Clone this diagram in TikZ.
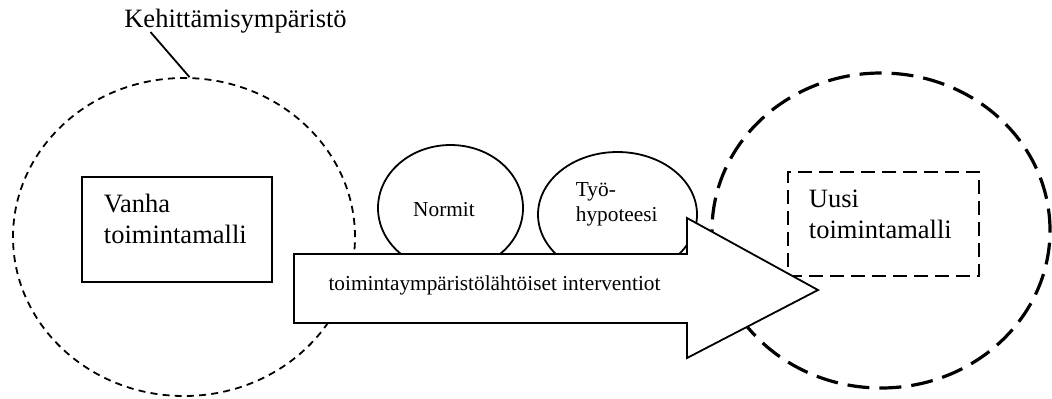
\documentclass[tikz,border=0pt]{standalone}
\usepackage{fontspec}
\setmainfont{Liberation Serif}
\usetikzlibrary{shapes.geometric}
\begin{document}
\begin{tikzpicture}[x=0.5pt,y=-0.5pt,
  line width=0.9pt,
  bigtext/.style={font=\fontsize{13.25}{15.2}\selectfont},
  smalltext/.style={font=\fontsize{10.65}{12.2}\selectfont},
  oval/.style={ellipse,draw,inner sep=0pt},
  envold/.style={oval,dash pattern=on 3.5pt off 2.6pt},
  envnew/.style={oval,line width=1.6pt,dash pattern=on 11pt off 5pt},
  modelbox/.style={rectangle,draw,inner sep=0pt},
  txt/.style={inner sep=0pt,align=left}]
\useasboundingbox (0,0) rectangle (1052,398);

% development environment and the old model
\node[envold,minimum width=171pt,minimum height=159pt] (old) at (184,237) {};
\node[bigtext,inner sep=0pt,anchor=base] (kehi) at (235.5,27) {Kehittämisympäristö};
\draw ([xshift=13.5pt,yshift=-2.5pt]kehi.base west) -- (old.88.5);
\node[modelbox,minimum width=95pt,minimum height=52.5pt] (vanha) at (177,229.5) {};
% multi-line text: the base anchor sits on the last line
\node[bigtext,txt,anchor=base west] (vanhat) at (103,243) {Vanha\\toimintamalli};

% norms and working hypothesis
\node[oval,minimum width=72.5pt,minimum height=63pt] (normit) at (450.5,208) {};
\node[smalltext,inner sep=0pt,anchor=base] (normitt) at (444,216) {Normit};
\node[oval,minimum width=79.5pt,minimum height=62.5pt] (tyo) at (617.5,214.5) {};
\node[smalltext,txt,anchor=base west] (tyot) at (575,221) {Työ-\\hypoteesi};

% new model
\node[envnew,minimum width=169pt,minimum height=157.5pt] (new) at (881,230.5) {};
\node[modelbox,dash pattern=on 7pt off 3.5pt,minimum width=95.5pt,minimum height=52pt] (uusi) at (883.5,224) {};
\node[bigtext,txt,anchor=base west] (uusit) at (808,238) {Uusi\\toimintamalli};

% interventions arrow
\draw[fill=white] (294,254) coordinate (a1) -- (687,254) -- (687,218) -- (818,290) coordinate (tip)
  -- (687,358) -- (687,323) -- (294,323) -- cycle;
\node[smalltext,inner sep=0pt,anchor=base] (interv) at (494.5,290) {toimintaympäristölähtöiset interventiot};
\end{tikzpicture}
\end{document}
